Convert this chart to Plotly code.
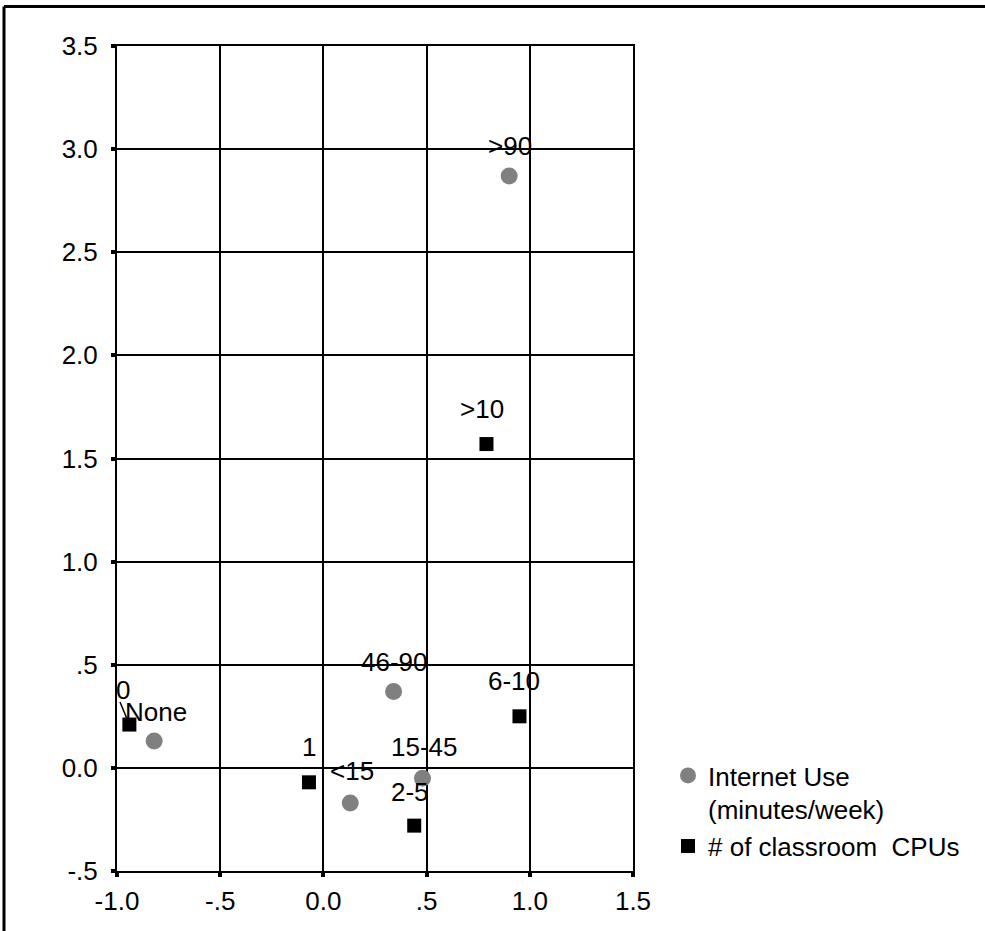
import plotly.graph_objects as go

# Data
internet_labels = [">90", "46-90", "None", "<15", "15-45"]
internet_x = [0.90, 0.34, -0.82, 0.13, 0.48]
internet_y = [2.87, 0.37, 0.13, -0.17, -0.05]

cpu_labels = [">10", "6-10", "0", "1", "2-5"]
cpu_x = [0.79, 0.95, -0.94, -0.07, 0.44]
cpu_y = [1.57, 0.25, 0.21, -0.07, -0.28]

x_ticks = [-1.0, -0.5, 0.0, 0.5, 1.0, 1.5]
x_ticktext = ["-1.0", "-.5", "0.0", ".5", "1.0", "1.5"]
y_ticks = [-0.5, 0.0, 0.5, 1.0, 1.5, 2.0, 2.5, 3.0, 3.5]
y_ticktext = ["-.5", "0.0", ".5", "1.0", "1.5", "2.0", "2.5", "3.0", "3.5"]

# label offsets in pixels (style)
internet_shift = [(1, 30), (1, 30), (2, 29), (2, 32), (2, 31)]
cpu_shift = [(-4, 35), (-5, 35), (-6, 35), (0, 35), (-4, 34)]

FONT = "Liberation Sans, Arial, sans-serif"
FS = 26

fig = go.Figure()
fig.add_trace(go.Scatter(
    x=internet_x, y=internet_y, mode="markers",
    marker=dict(symbol="circle", size=17, color="#808080"),
    name="Internet Use<br>(minutes/week)",
))
fig.add_trace(go.Scatter(
    x=cpu_x, y=cpu_y, mode="markers",
    marker=dict(symbol="square", size=14, color="black"),
    name="# of classroom  CPUs",
))

def esc(s):
    return s.replace("<", "&lt;").replace(">", "&gt;")

annos = []
for lab, x, y, (dx, dy) in zip(internet_labels, internet_x, internet_y, internet_shift):
    annos.append(dict(x=x, y=y, text=esc(lab), showarrow=False, xshift=dx, yshift=dy,
                      font=dict(size=FS, color="black", family=FONT)))
for lab, x, y, (dx, dy) in zip(cpu_labels, cpu_x, cpu_y, cpu_shift):
    annos.append(dict(x=x, y=y, text=esc(lab), showarrow=False, xshift=dx, yshift=dy,
                      font=dict(size=FS, color="black", family=FONT)))
    if lab == "0":
        # leader line from the label down to its marker
        annos.append(dict(x=x, y=y, text="", showarrow=True, arrowhead=0,
                          arrowwidth=1.5, arrowcolor="black", ax=-10, ay=-24, standoff=6))

axis_common = dict(
    showgrid=True, gridcolor="black", gridwidth=2,
    showline=True, linecolor="black", linewidth=2, mirror=True,
    ticks="outside", ticklen=4, tickwidth=4, tickcolor="black",
    zeroline=False,
    tickfont=dict(size=FS, color="black", family=FONT),
)

fig.update_layout(
    width=985, height=931,
    margin=dict(l=117, r=352, t=46, b=60, autoexpand=False),
    paper_bgcolor="white", plot_bgcolor="white",
    xaxis=dict(range=[-1.0, 1.5], tickvals=x_ticks, ticktext=x_ticktext,
               ticklabelstandoff=2, **axis_common),
    yaxis=dict(range=[-0.5, 3.5], tickvals=y_ticks, ticktext=y_ticktext,
               ticklabelstandoff=8, **axis_common),
    annotations=annos,
    showlegend=True,
    legend=dict(x=(668 - 117) / 516, y=(871 - 752) / 825, xanchor="left", yanchor="top",
                font=dict(size=FS, color="black", family=FONT),
                bgcolor="rgba(0,0,0,0)", valign="top", itemsizing="trace",
                itemwidth=30, tracegroupgap=0),
    shapes=[
        dict(type="line", xref="paper", yref="paper",
             x0=(4 - 117) / 516, y0=(871 - 6.5) / 825, x1=(4 - 117) / 516, y1=(871 - 935) / 825,
             line=dict(color="black", width=3)),
        dict(type="line", xref="paper", yref="paper",
             x0=(4 - 117) / 516, y0=(871 - 6.5) / 825, x1=(990 - 117) / 516, y1=(871 - 6.5) / 825,
             line=dict(color="black", width=3)),
    ],
)

fig.write_html("out.html", config={"displayModeBar": False},
               post_script="document.body.style.margin='0';")
